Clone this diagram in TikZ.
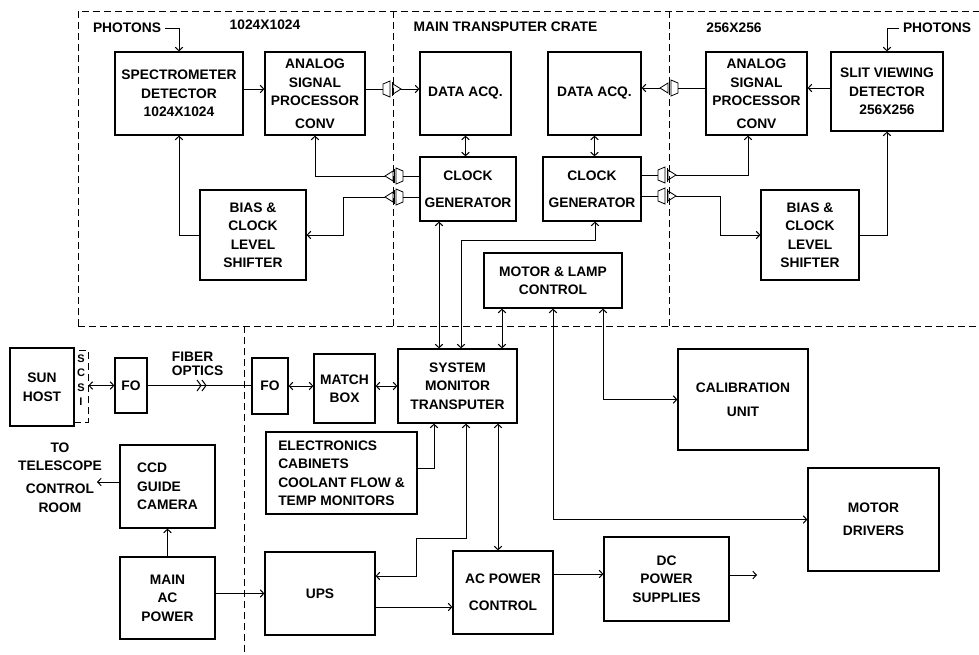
\documentclass[tikz, border = 0pt]{standalone}
\usepackage{fontspec}
\setmainfont{Liberation Sans}
\usetikzlibrary{arrows.meta}
\tikzset{blk/.style 2 args = {draw, line width = 1.2pt, align = center, inner sep = 0, minimum width = #1, minimum height = #2}}
\tikzset{crate/.style = {line width = 0.8pt, dash pattern = on 7pt off 4pt}}
\tikzset{jack/.pic = {
    \draw [line width = 0.8pt] (-10, -5) -- (-3, -8) -- (-3, 8) -- (-10, 5) -- cycle;
    \draw [line width = 0.8pt] (-1, -7) -- (-1, 7);
    \draw [line width = 0.8pt] (0, -5) -- (8, 0) -- (0, 5) -- cycle;
    \coordinate (-in) at (-10, 0);
    \coordinate (-out) at (8, 0);
  }}

\begin{document}
\begin{tikzpicture}[x = 1pt, y = -1pt, line width = 1pt, >= {Straight Barb[length = 3.5pt, width = 7.5pt]}, font = \bfseries\fontsize{13.8}{18.5}\selectfont]
      \useasboundingbox (0, 0) rectangle (979, 654);

      \draw [crate] (78, 326) -- (78, 11) -- (979, 11);
      \draw [crate] (78, 326) -- (979, 326);
      \draw [crate] (393, 11) -- (393, 326);
      \draw [crate] (669, 11) -- (669, 326);
      \draw [crate] (244, 326) -- (244, 654);

      \node (ph1) at (127, 28) {PHOTONS};
      \node (res1) at (265, 25) {1024X1024};
      \node (crt) at (505.5, 27) {MAIN TRANSPUTER CRATE};
      \node (res2) at (734, 28) {256X256};
      \node (ph2) at (937, 28) {PHOTONS};

      \node [blk = {128}{83}] (spec) at (179, 93.5) {SPECTROMETER\\ DETECTOR\\ 1024X1024};
      \node [blk = {100}{83}] (asp1) at (315, 93.5) {ANALOG\\ SIGNAL\\ PROCESSOR\\[4pt] CONV};
      \node [blk = {106}{90}] (bias1) at (253, 235) {BIAS \&\\ CLOCK\\ LEVEL\\ SHIFTER};
      \node [blk = {91}{83}] (daq1) at (465.5, 93.5) {DATA ACQ.};
      \node [blk = {93}{83}] (daq2) at (594.5, 93.5) {DATA ACQ.};
      \node [blk = {96}{64}] (clk1) at (468, 189) {CLOCK\\[8pt] GENERATOR};
      \node [blk = {98}{64}] (clk2) at (592, 189) {CLOCK\\[8pt] GENERATOR};
      \node [blk = {101}{83}] (asp2) at (756.5, 93.5) {ANALOG\\ SIGNAL\\ PROCESSOR\\[4pt] CONV};
      \node [blk = {112}{79}] (slit) at (887, 91.5) {SLIT VIEWING\\ DETECTOR\\ 256X256};
      \node [blk = {98}{90}] (bias2) at (810, 235) {BIAS \&\\ CLOCK\\ LEVEL\\ SHIFTER};
      \node [blk = {138}{55}] (mlc) at (553, 280.5) {MOTOR \& LAMP\\ CONTROL};

      \node [blk = {64}{78}] (sun) at (42, 387) {SUN\\ HOST};
      \node [blk = {14}{72}, crate, text depth = 12pt, font = \bfseries\fontsize{11}{14.5}\selectfont] (scsi) at (81, 386) {S\\ C\\ S\\ I};
      \node [blk = {32}{55}] (fo1) at (131, 385.5) {FO};
      \node [align = left, anchor = west] (fib) at (168, 364) {FIBER\\[-4.5pt] OPTICS};
      \node [blk = {36}{56}] (fo2) at (270, 386) {FO};
      \node [blk = {61}{69}] (mbox) at (344.5, 388.5) {MATCH\\ BOX};
      \node [blk = {119}{74}] (smt) at (457.5, 386) {SYSTEM\\ MONITOR\\ TRANSPUTER};
      \node [blk = {151}{82}, align = left] (elec) at (341.5, 473) {ELECTRONICS\\ CABINETS\\ COOLANT FLOW \&\\ TEMP MONITORS};
      \node [blk = {130}{101}] (cal) at (743, 399.5) {CALIBRATION\\[5.5pt] UNIT};
      \node [blk = {131}{103}] (mdrv) at (873.5, 519.5) {MOTOR\\[4.5pt] DRIVERS};
      \node [align = center] (tel) at (60, 477.5) {TO\\ TELESCOPE\\[4.5pt] CONTROL\\ ROOM};
      \node [blk = {95}{83}, align = left] (ccd) at (167.5, 486.5) {CCD\\ GUIDE\\ CAMERA};
      \node [blk = {95}{82}] (mac) at (167.5, 598) {MAIN\\ AC\\ POWER};
      \node [blk = {110}{83}] (ups) at (320, 593.5) {UPS};
      \node [blk = {100}{83}] (acp) at (503, 592.5) {AC POWER\\[8.5pt] CONTROL};
      \node [blk = {125}{84}] (dcp) at (666.5, 579) {DC\\ POWER\\ SUPPLIES};
      \coordinate (tc) at (97, 482);
      \coordinate (dco) at (757, 575);

      \pic (jA) at (393, 89) {jack};
      \pic [rotate = 180] (jB) at (393, 176) {jack};
      \pic [rotate = 180] (jC) at (393, 197) {jack};
      \pic [rotate = 180] (jD) at (668, 88) {jack};
      \pic (jE) at (668, 175) {jack};
      \pic (jF) at (668, 196) {jack};

      \draw [->] (ph1.east) -| (spec.north);
      \draw [->] (spec.east |- jA-in) -- (asp1.west |- jA-in);
      \draw (asp1.east |- jA-in) -- (jA-in);
      \draw [->] (jA-out) -- (daq1.west |- jA-out);
      \draw (clk1.west |- jB-in) -- (jB-in);
      \draw [->] (jB-out) -| (asp1.south);
      \draw (clk1.west |- jC-in) -- (jC-in);
      \draw [->] (jC-out) -- ++(-42, 0) |- (bias1.east);
      \draw [->] (bias1.west) -| (spec.south);
      \draw [<->] (daq1.south) -- (daq1.south |- clk1.north);
      \draw [<->] (daq2.south) -- (daq2.south |- clk2.north);
      \draw [->] (ph2.west) -| (slit.north);
      \draw [->] (slit.west |- jD-in) -- (asp2.east |- jD-in);
      \draw (asp2.west |- jD-in) -- (jD-in);
      \draw [->] (jD-out) -- (daq2.east |- jD-out);
      \draw (clk2.east |- jE-in) -- (jE-in);
      \draw [->] (jE-out) -| ([xshift = -8.5pt] asp2.south);
      \draw (clk2.east |- jF-in) -- (jF-in);
      \draw [->] (jF-out) -- ++(44, 0) |- (bias2.west);
      \draw [->] (bias2.east) -| (slit.south);

      \draw [<->] ([xshift = -29pt] clk1.south) -- ([xshift = -29pt] clk1.south |- smt.north);
      \draw [<->] ([xshift = 3pt] clk2.south) -- ++(0, 19) -| ([xshift = 3.5pt] smt.north);
      \draw [<->] ([xshift = -51pt] mlc.south) -- ([xshift = -51pt] mlc.south |- smt.north);
      \draw [<->] ([xshift = 50pt] mlc.south) |- (cal.west);
      \draw [<->] (mlc.south) |- (mdrv.west);

      \draw [<->] (scsi.east |- fo1.west) -- (fo1.west);
      \draw (fo1.east) -- (fo2.west |- fo1.east);
      \draw (197, 380) -- (201, 385.5) -- (197, 391) (202, 380) -- (206, 385.5) -- (202, 391);
      \draw [<->] (fo2.east) -- (mbox.west |- fo2.east);
      \draw [<->] (mbox.east |- smt.west) -- (smt.west);
      \draw [->] ([yshift = 5pt] elec.east) -| ([xshift = -23.5pt] smt.south);
      \draw [<->] ([xshift = 8.5pt] smt.south) -- ++(0, 115) -- ++(-50, 0) |- ([yshift = 17.5pt] ups.east);
      \draw [<->] ([xshift = 40.5pt] smt.south) -- ([xshift = 40.5pt] smt.south |- acp.north);

      \draw [->] (mac.north) -- (ccd.south);
      \draw [->] ([yshift = 4.5pt] ccd.west) -- (tc);
      \draw [->] (mac.east |- ups.west) -- (ups.west);
      \draw [->] ([yshift = -13.5pt] ups.east) -- ([yshift = -13.5pt] ups.east -| acp.west);
      \draw [->] ([yshift = 18.5pt] acp.east) -- ([yshift = 18.5pt] acp.east -| dcp.west);
      \draw [->] ([yshift = 4pt] dcp.east) -- (dco);
    \end{tikzpicture}
\end{document}
